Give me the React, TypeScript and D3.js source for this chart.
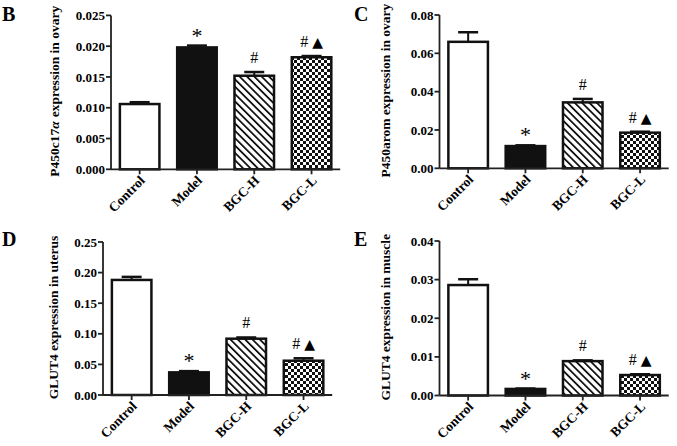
import React from "react";
import * as d3 from "d3";

const categories = ["Control", "Model", "BGC-H", "BGC-L"];
const marks = ["", "*", "#", "# ▲"];

const p450c17Values = [0.0106, 0.0198, 0.0152, 0.0182];
const p450c17Errors = [0.0003, 0.0003, 0.0006, 0.0002];
const p450c17Ticks = ["0.000", "0.005", "0.010", "0.015", "0.020", "0.025"];

const p450aromValues = [0.066, 0.0116, 0.0344, 0.0186];
const p450aromErrors = [0.005, 0.0004, 0.0018, 0.0005];
const p450aromTicks = ["0.00", "0.02", "0.04", "0.06", "0.08"];

const glutUterusValues = [0.188, 0.037, 0.092, 0.056];
const glutUterusErrors = [0.005, 0.002, 0.002, 0.004];
const glutUterusTicks = ["0.00", "0.05", "0.10", "0.15", "0.20", "0.25"];

const glutMuscleValues = [0.0286, 0.0017, 0.0089, 0.0053];
const glutMuscleErrors = [0.0015, 0.0001, 0.0002, 0.0002];
const glutMuscleTicks = ["0.00", "0.01", "0.02", "0.03", "0.04"];

const FONT = "'Liberation Serif', 'Times New Roman', serif";
const STEP = 57.3;

type Panel = {
  letter: string;
  letterX: number;
  letterY: number;
  title: React.ReactNode;
  titleX: number;
  values: number[];
  errors: number[];
  ticks: string[];
  axisX: number;
  yTop: number;
  yBottom: number;
};

const panels: Panel[] = [
  {
    letter: "B", letterX: 2, letterY: 21,
    title: (<>P450c17<tspan fontStyle="italic">α</tspan><tspan dx={4}>expression in ovary</tspan></>),
    titleX: 59,
    values: p450c17Values, errors: p450c17Errors, ticks: p450c17Ticks,
    axisX: 111, yTop: 15.4, yBottom: 169.3,
  },
  {
    letter: "C", letterX: 354, letterY: 21,
    title: "P450arom expression in ovary",
    titleX: 390,
    values: p450aromValues, errors: p450aromErrors, ticks: p450aromTicks,
    axisX: 439.5, yTop: 15, yBottom: 168.3,
  },
  {
    letter: "D", letterX: 2, letterY: 246,
    title: "GLUT4 expression in uterus",
    titleX: 58,
    values: glutUterusValues, errors: glutUterusErrors, ticks: glutUterusTicks,
    axisX: 103, yTop: 242, yBottom: 395,
  },
  {
    letter: "E", letterX: 354, letterY: 246,
    title: "GLUT4 expression in muscle",
    titleX: 390,
    values: glutMuscleValues, errors: glutMuscleErrors, ticks: glutMuscleTicks,
    axisX: 439.5, yTop: 241, yBottom: 395.5,
  },
];

const fills = ["#ffffff", "#111111", "url(#stripes)", "url(#checks)"];

function PanelView({ p }: { p: Panel }) {
  const tickVals = p.ticks.map((t) => +t);
  const yMax = tickVals[tickVals.length - 1];
  const y = d3.scaleLinear().domain([0, yMax]).range([p.yBottom, p.yTop]);
  const x = d3
    .scaleBand<string>()
    .domain(categories)
    .range([p.axisX, p.axisX + STEP * categories.length])
    .paddingInner(0.31)
    .paddingOuter(0.155);
  const bw = x.bandwidth();
  const xEnd = p.axisX + STEP * categories.length;
  const midY = (p.yTop + p.yBottom) / 2;
  return (
    <g>
      <text x={p.letterX} y={p.letterY} fontSize={20} fontWeight="bold" fontFamily={FONT}>
        {p.letter}
      </text>
      <text
        transform={`translate(${p.titleX},${midY - 1}) rotate(-90)`}
        textAnchor="middle"
        fontSize={13.5}
        fontWeight="bold"
        fontFamily={FONT}
        style={{ whiteSpace: "pre" }}
      >
        {p.title}
      </text>
      {categories.map((c, i) => {
        const x0 = x(c)!;
        const top = y(p.values[i]);
        const errTop = y(p.values[i] + p.errors[i]);
        const cx = x0 + bw / 2;
        return (
          <g key={c}>
            <rect
              x={x0}
              y={top}
              width={bw}
              height={p.yBottom - top}
              fill={fills[i]}
              stroke="#111"
              strokeWidth={2.5}
            />
            <line x1={cx} x2={cx} y1={top} y2={errTop} stroke="#111" strokeWidth={2} />
            <line x1={cx - 10} x2={cx + 10} y1={errTop} y2={errTop} stroke="#111" strokeWidth={2.5} />
            {marks[i] && (
              <text
                x={cx}
                y={marks[i] === "*" ? errTop - 3 : errTop - 9}
                textAnchor="middle"
                fontSize={marks[i] === "*" ? 22 : 16}
                fontFamily={FONT}
                style={{ whiteSpace: "pre" }}
              >
                {marks[i] === "# ▲" ? (
                  <>
                    #<tspan dx={4} fontFamily="'DejaVu Sans', sans-serif" fontSize={14}>▲</tspan>
                  </>
                ) : (
                  marks[i]
                )}
              </text>
            )}
          </g>
        );
      })}
      <line x1={p.axisX} x2={p.axisX} y1={p.yTop} y2={p.yBottom} stroke="#222" strokeWidth={1.8} />
      {tickVals.map((v, i) => (
        <g key={i}>
          <line x1={p.axisX - 5} x2={p.axisX} y1={y(v)} y2={y(v)} stroke="#222" strokeWidth={1.8} />
          <text
            x={p.axisX - 6}
            y={y(v)}
            dy="0.35em"
            textAnchor="end"
            fontSize={13}
            fontWeight="bold"
            fontFamily={FONT}
          >
            {p.ticks[i]}
          </text>
        </g>
      ))}
      <line x1={p.axisX} x2={xEnd} y1={p.yBottom} y2={p.yBottom} stroke="#222" strokeWidth={1.8} />
      {categories.map((c) => {
        const cx = x(c)! + bw / 2;
        return (
          <g key={c}>
            <line x1={cx} x2={cx} y1={p.yBottom} y2={p.yBottom + 5} stroke="#222" strokeWidth={1.8} />
            <text
              transform={`translate(${cx + 6},${p.yBottom + 12}) rotate(-45)`}
              textAnchor="end"
              fontSize={13.5}
              fontWeight="bold"
              fontFamily={FONT}
            >
              {c}
            </text>
          </g>
        );
      })}
    </g>
  );
}

export default function App() {
  return (
    <svg
      width={677}
      height={446}
      viewBox="0 0 677 446"
      style={{ position: "absolute", left: 0, top: 0, background: "#fff" }}
    >
      <defs>
        <pattern id="stripes" patternUnits="userSpaceOnUse" width={5.2} height={5.2} patternTransform="rotate(-45)">
          <rect width={5.2} height={5.2} fill="#fff" />
          <line x1={0} y1={0} x2={0} y2={5.2} stroke="#111" strokeWidth={3.6} />
        </pattern>
        <pattern id="checks" patternUnits="userSpaceOnUse" width={6} height={6}>
          <rect width={6} height={6} fill="#fff" />
          <rect x={0} y={0} width={3} height={3} fill="#111" />
          <rect x={3} y={3} width={3} height={3} fill="#111" />
        </pattern>
      </defs>
      <rect width={677} height={446} fill="#fff" />
      {panels.map((p) => (
        <PanelView key={p.letter} p={p} />
      ))}
    </svg>
  );
}
